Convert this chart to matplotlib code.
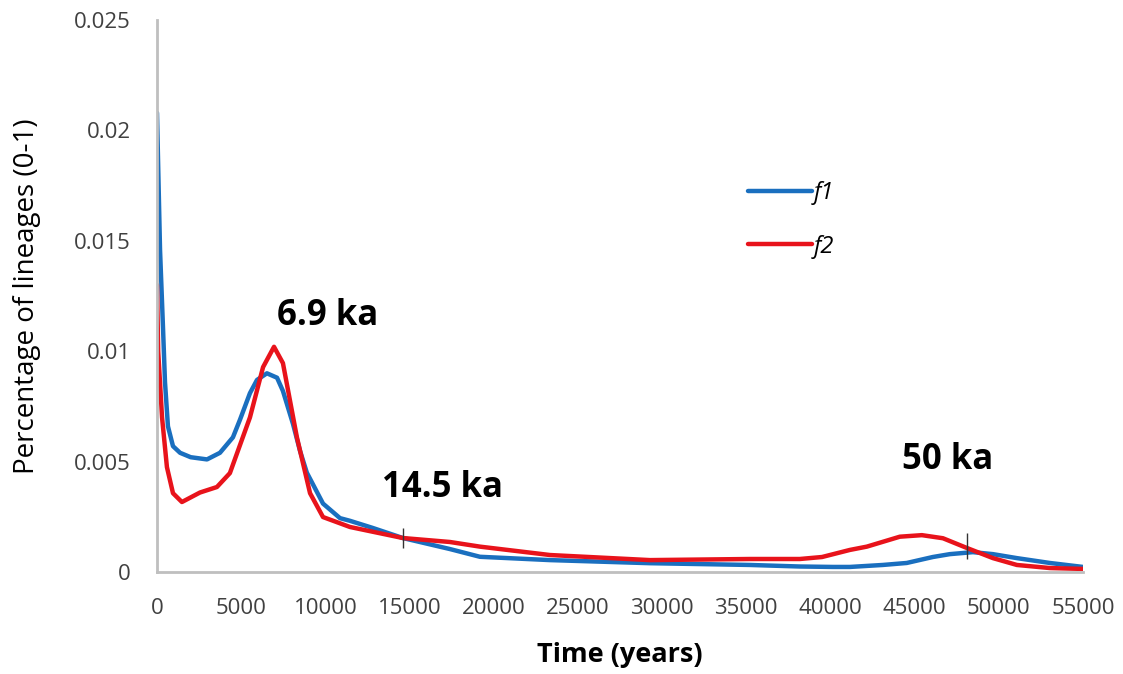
"""
Lineage percentage through time, f1 vs f2
"""
import matplotlib
matplotlib.use('Agg')
import matplotlib.pyplot as plt

# values
F1_YEARS = [0, 180, 360, 475, 650, 950, 1370, 2000, 2970, 3740, 4510, 4930, 5520,
            5940, 6530, 7130, 7480, 8080, 8490, 8900, 9860, 10870, 11460, 12800,
            14600, 17400, 19180, 23340, 29280, 35210, 38180, 40150, 41150, 43110,
            44530, 46080, 47090, 48460, 49650, 51070, 53030, 55000]
F1_VALUES = [0.0208, 0.0146, 0.0110, 0.0086, 0.0066, 0.0057, 0.0054, 0.0052, 0.0051,
             0.0054, 0.0061, 0.0069, 0.0081, 0.0087, 0.0090, 0.0088, 0.0082, 0.0067,
             0.0055, 0.0045, 0.0031, 0.00244, 0.00232, 0.0020, 0.00154, 0.00104,
             0.00069, 0.00054, 0.00040, 0.00032, 0.00025, 0.00023, 0.00023, 0.00032,
             0.00041, 0.00068, 0.00081, 0.00090, 0.00081, 0.00063, 0.00041, 0.00023]

F2_YEARS = [0, 70, 300, 590, 950, 1480, 2550, 3560, 4330, 5520, 6300, 6950, 7480,
            8310, 9090, 9860, 11460, 14600, 17400, 19180, 23340, 29280, 35210,
            38180, 39500, 41150, 42160, 44120, 45430, 46680, 48100, 49650, 51070,
            53030, 55000]
F2_VALUES = [0.0130, 0.0100, 0.0070, 0.00475, 0.00357, 0.00317, 0.0036, 0.00385,
             0.00448, 0.0070, 0.00928, 0.0102, 0.00946, 0.0061, 0.00357, 0.00249,
             0.00204, 0.00154, 0.00136, 0.00115, 0.00077, 0.00054, 0.00059, 0.00059,
             0.00068, 0.0010, 0.00115, 0.00160, 0.00167, 0.00153, 0.00109, 0.00063,
             0.00032, 0.00018, 0.00014]

X_TICKS = list(range(0, 55001, 5000))
Y_TICKS = [0, 0.005, 0.01, 0.015, 0.02, 0.025]
Y_TICK_LABELS = ['0', '0.005', '0.01', '0.015', '0.02', '0.025']

# (x, y, label) annotations and the small marks on the curves
NOTES = [(10150, 0.0116, '6.9 ka'), (16980, 0.0038, '14.5 ka'), (46970, 0.00507, '50 ka')]
MARKS_X = [14600, 48100]
MARKS_Y = [0.00154, 0.00118]

plt.rcParams['font.family'] = ['Open Sans', 'DejaVu Sans']

FIG = plt.figure(figsize=(11.23, 6.74), dpi=100)
AX = FIG.add_axes([0.1398, 0.1513, 0.8246, 0.819])

AX.plot(F1_YEARS, F1_VALUES, color='#1a6fbf', lw=3.2, label='f1', solid_capstyle='round')
AX.plot(F2_YEARS, F2_VALUES, color='#e8131b', lw=3.2, label='f2', solid_capstyle='round')

AX.plot(MARKS_X[:1], MARKS_Y[:1], ls='none', marker='|', ms=14, mew=1, color='#333333')
AX.plot(MARKS_X[1:], MARKS_Y[1:], ls='none', marker='|', ms=19, mew=1, color='#333333')

for x, y, txt in NOTES:
    AX.text(x, y, txt, fontsize=25, fontweight='bold', ha='center', va='center')

AX.set_xlim(0, 55000)
AX.set_ylim(0, 0.025)
AX.set_xticks(X_TICKS)
AX.set_xticklabels([str(t) for t in X_TICKS])
AX.set_yticks(Y_TICKS)
AX.set_yticklabels(Y_TICK_LABELS)
AX.tick_params(length=0, labelsize=16, colors='#404040')
AX.tick_params(axis='y', pad=19)
AX.tick_params(axis='x', pad=19)
for side in ['top', 'right']:
    AX.spines[side].set_visible(False)
for side in ['left', 'bottom']:
    AX.spines[side].set_color('#bfbfbf')
    AX.spines[side].set_linewidth(2)

AX.set_xlabel('Time (years)', fontsize=19.5, fontweight='bold', labelpad=16)
AX.set_ylabel('Percentage of lineages (0-1)', fontsize=20, labelpad=24)

AX.legend(loc='upper left', bbox_to_anchor=(0.638, 0.708), frameon=False,
          prop={'style': 'italic', 'size': 17}, handlelength=2.7, handletextpad=0.1,
          labelspacing=1.25, borderpad=0, borderaxespad=0)

FIG.savefig('out.png', dpi=100)
